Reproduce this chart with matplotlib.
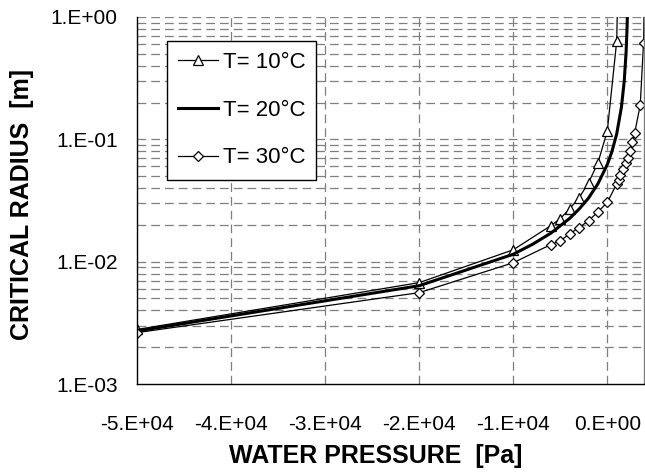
import matplotlib.pyplot as plt
from matplotlib.ticker import FixedLocator, NullFormatter

# Data
# T = 10 C (triangles)
p10 = [-50000, -20000, -10000, -6000, -5000, -4000, -3000, -2000, -1000, 0, 1000, 1150]
r10 = [2.79e-3, 6.74e-3, 1.25e-2, 1.97e-2, 2.25e-2, 2.71e-2, 3.33e-2, 4.41e-2,
       6.43e-2, 0.117, 0.637, 2.5]

# T = 20 C (thick line, no markers)
p20 = [-50000, -20000, -10000, -8000, -6000, -4000, -3000, -2000, -1000, 0,
       500, 1000, 1500, 1800, 2000, 2100, 2200]
r20 = [2.71e-3, 6.36e-3, 1.15e-2, 1.38e-2, 1.71e-2, 2.26e-2, 2.69e-2, 3.31e-2,
       4.33e-2, 6.23e-2, 7.99e-2, 0.111, 0.183, 0.30, 0.52, 0.82, 1.6]

# T = 30 C (diamonds)
p30 = [-50000, -20000, -10000, -6000, -5000, -4000, -3000, -2000, -1000, 0,
       1000, 1200, 1400, 1700, 2000, 2200, 2400, 2600, 2900, 3500, 3850, 3950]
r30 = [2.63e-3, 5.58e-3, 9.8e-3, 1.38e-2, 1.48e-2, 1.69e-2, 1.90e-2, 2.16e-2,
       2.55e-2, 3.05e-2, 4.33e-2, 4.63e-2, 5.13e-2, 5.74e-2, 6.37e-2, 7.06e-2,
       7.98e-2, 9.54e-2, 0.112, 0.191, 0.613, 2.0]

labels = ['T= 10°C', 'T= 20°C', 'T= 30°C']
x_ticks = [-50000, -40000, -30000, -20000, -10000, 0]
x_tick_labels = ['-5.E+04', '-4.E+04', '-3.E+04', '-2.E+04', '-1.E+04', '0.E+00']
y_ticks = [1e-3, 1e-2, 1e-1, 1e0]
y_tick_labels = ['1.E-03', '1.E-02', '1.E-01', '1.E+00']

plt.rcParams['font.family'] = ['Liberation Sans', 'DejaVu Sans']

fig = plt.figure(figsize=(6.45, 4.76), dpi=100)
ax = fig.add_axes([137 / 645, 1 - 384 / 476, 507 / 645, 367 / 476])

ax.set_yscale('log')
ax.set_xlim(-50000, 3900)
ax.set_ylim(1e-3, 1e0)

# grid: dashed gray, major x and major+minor y
grid_kw = dict(color='#7f7f7f', linewidth=0.9, linestyle=(0, (7, 4)))
for xv in x_ticks[1:]:
    ax.axvline(xv, zorder=0, **grid_kw)
minor_y = [m * 10.0 ** e for e in (-3, -2, -1) for m in range(2, 10)]
for yv in minor_y + y_ticks[1:]:
    ax.axhline(yv, zorder=0, **grid_kw)

ax.plot(p10, r10, color='black', linewidth=0.9, marker='^', markersize=7.5,
        markerfacecolor='white', markeredgecolor='black', markeredgewidth=0.9,
        label=labels[0])
ax.plot(p20, r20, color='black', linewidth=2.2, label=labels[1])
ax.plot(p30, r30, color='black', linewidth=0.9, marker='D', markersize=5.5,
        markerfacecolor='white', markeredgecolor='black', markeredgewidth=0.9,
        label=labels[2])

ax.xaxis.set_major_locator(FixedLocator(x_ticks))
ax.set_xticklabels(x_tick_labels)
ax.yaxis.set_major_locator(FixedLocator(y_ticks))
ax.set_yticklabels(y_tick_labels)
ax.yaxis.set_minor_formatter(NullFormatter())
ax.tick_params(axis='both', which='both', length=0, labelsize=15)
ax.tick_params(axis='x', pad=22)
ax.tick_params(axis='y', pad=14)

for side in ['left', 'bottom']:
    ax.spines[side].set_color('black')
    ax.spines[side].set_linewidth(1.0)
ax.spines['top'].set_visible(False)
ax.spines['right'].set_color('#7f7f7f')
ax.spines['right'].set_linewidth(1.0)

leg = ax.legend(loc='upper left', bbox_to_anchor=(30 / 507, 1 - 24 / 367),
                borderaxespad=0, fontsize=16, frameon=True, fancybox=False,
                edgecolor='black', framealpha=1, handlelength=1.8,
                handletextpad=0.2, labelspacing=1.2, borderpad=0.5)
leg.get_frame().set_linewidth(1.0)

fig.text(376 / 645, 1 - 456 / 476, 'WATER PRESSURE  [Pa]', ha='center',
         va='center', fontsize=18, fontweight='bold')
fig.text(22 / 645, 1 - 205 / 476, 'CRITICAL RADIUS  [m]', ha='center',
         va='center', rotation=90, fontsize=18, fontweight='bold')

fig.savefig('out.png', dpi=100)
